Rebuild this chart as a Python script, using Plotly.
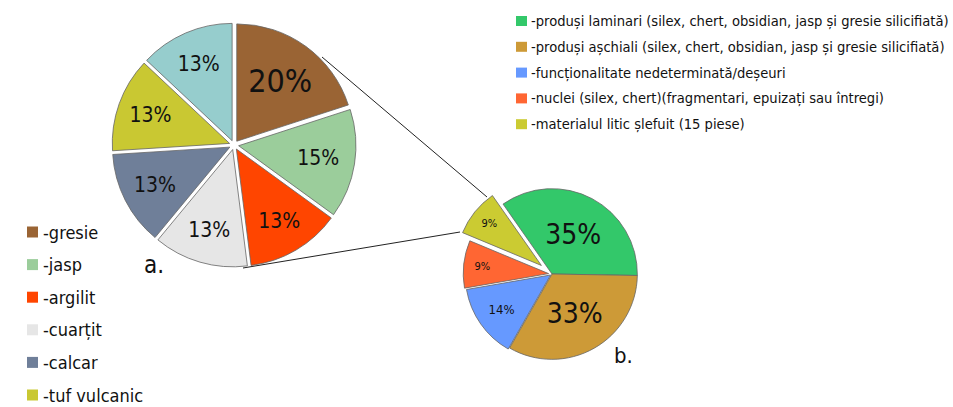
import plotly.graph_objects as go

W, H = 953, 407

# ---- data ----
a_labels = ["gresie", "jasp", "argilit", "cuarțit", "calcar", "tuf vulcanic", "altele"]
a_values = [20, 15, 13, 13, 13, 13, 13]
a_colors = ["#9A6434", "#9BCD9B", "#FF4500", "#E6E6E6", "#6F7F99", "#C9C832", "#96CDCD"]
a_legend = ["-gresie", "-jasp", "-argilit", "-cuarțit", "-calcar", "-tuf vulcanic"]

b_labels = [
    "-produși laminari (silex, chert, obsidian, jasp și gresie silicifiată)",
    "-produși așchiali (silex, chert, obsidian, jasp și gresie silicifiată)",
    "-funcționalitate nedeterminată/deșeuri",
    "-nuclei (silex, chert)(fragmentari, epuizați sau întregi)",
    "-materialul litic șlefuit (15 piese)",
]
b_values = [35, 33, 14, 9, 9]
b_colors = ["#33C86A", "#CD9A37", "#6699FF", "#FF6633", "#CBCB32"]

FONT = "DejaVu Sans Condensed, sans-serif"


def px(x):
    return x / W


def py(y):
    return 1 - y / H


fig = go.Figure()

# pie a
a_pull = 0.04
fig.add_trace(go.Pie(
    labels=a_labels, values=a_values, sort=False, direction="clockwise", rotation=0,
    marker=dict(colors=a_colors, line=dict(color="#666666", width=0.8)),
    pull=[a_pull] * len(a_values),
    texttemplate="%{value}%", textposition="inside", insidetextorientation="horizontal",
    textfont=dict(family=FONT, color="#111111", size=[32, 21, 21, 21, 21, 21, 21]),
    domain=dict(x=[px(112), px(356)], y=[py(267), py(23)]),
    showlegend=False, hoverinfo="label+percent",
))

# pie b
fig.add_trace(go.Pie(
    labels=b_labels, values=b_values, sort=False, direction="clockwise", rotation=-35,
    marker=dict(colors=b_colors, line=dict(color="#666666", width=0.8)),
    pull=[0, 0, 0.02, 0.04, 0.16],
    texttemplate="%{value}%", textposition="inside", insidetextorientation="horizontal",
    textfont=dict(family=FONT, color="#111111", size=[28, 28, 13, 11, 11]),
    domain=dict(x=[px(453), px(651)], y=[py(373), py(175)]),
    showlegend=False, hoverinfo="label+percent",
))

shapes = []
annotations = []

# connector lines (zoom from slice 'gresie' to pie b)
shapes.append(dict(type="line", xref="paper", yref="paper",
                   x0=px(322), y0=py(57), x1=px(487), y1=py(197),
                   line=dict(color="#222222", width=1)))
shapes.append(dict(type="line", xref="paper", yref="paper",
                   x0=px(243), y0=py(268), x1=px(460), y1=py(232),
                   line=dict(color="#222222", width=1)))

# legend a
for i, (lab, col) in enumerate(zip(a_legend, a_colors)):
    yc = 232 + i * 32.6
    shapes.append(dict(type="rect", xref="paper", yref="paper",
                       x0=px(27), x1=px(38), y0=py(yc + 5.5), y1=py(yc - 5.5),
                       fillcolor=col, line=dict(width=0)))
    annotations.append(dict(xref="paper", yref="paper", x=px(41), y=py(yc),
                            text=lab, showarrow=False, xanchor="left", yanchor="middle",
                            font=dict(family=FONT, size=18, color="#111111")))

# legend b
for i, (lab, col) in enumerate(zip(b_labels, b_colors)):
    yc = 21 + i * 25.8
    shapes.append(dict(type="rect", xref="paper", yref="paper",
                       x0=px(516), x1=px(527), y0=py(yc + 5), y1=py(yc - 5),
                       fillcolor=col, line=dict(width=0)))
    annotations.append(dict(xref="paper", yref="paper", x=px(529), y=py(yc),
                            text=lab, showarrow=False, xanchor="left", yanchor="middle",
                            font=dict(family=FONT, size=14.6, color="#111111")))

annotations.append(dict(xref="paper", yref="paper", x=px(154), y=py(265), text="a.",
                        showarrow=False, xanchor="center", yanchor="middle",
                        font=dict(family=FONT, size=24, color="#111111")))
annotations.append(dict(xref="paper", yref="paper", x=px(623), y=py(355), text="b.",
                        showarrow=False, xanchor="center", yanchor="middle",
                        font=dict(family=FONT, size=22, color="#111111")))

fig.update_layout(
    width=W, height=H, margin=dict(l=0, r=0, t=0, b=0),
    paper_bgcolor="white", plot_bgcolor="white",
    shapes=shapes, annotations=annotations,
)

fig.write_html("out.html", config={"displayModeBar": False})
